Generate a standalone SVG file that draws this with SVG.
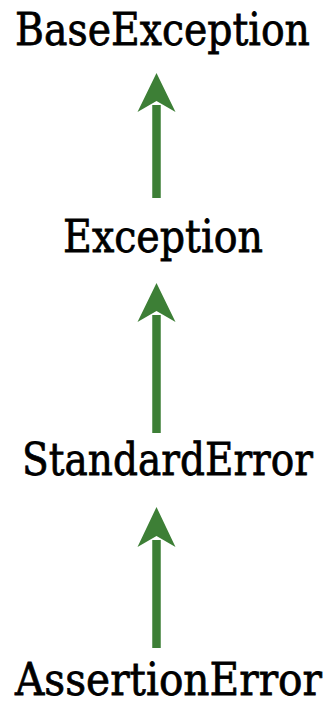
<svg xmlns="http://www.w3.org/2000/svg" width="327" height="705" viewBox="0 0 327 705">
<style>
.lbl{font-family:"DejaVu Serif","Liberation Serif",serif;font-size:30px;fill:#000;stroke:#000;stroke-width:0.5}
.shaft{fill:none;stroke:#3d7f36;stroke-width:8.5}
.head{fill:#3d7f36}
</style>
<rect width="327" height="705" fill="#fff"/>
<g id="connectors">
<path class="shaft" d="M156.5 198V105"/>
<path class="head" d="M156.5 73L175.5 112L156.5 101L137.5 112Z"/>
<path class="shaft" d="M156.5 433V315"/>
<path class="head" d="M156.5 283L175.5 322L156.5 311L137.5 322Z"/>
<path class="shaft" d="M156.5 648V540"/>
<path class="head" d="M156.5 507L175.5 547L156.5 536L137.5 547Z"/>
</g>
<g id="BaseException"><text class="lbl" transform="translate(15,45) scale(1,1.5)" x="0" y="0" textLength="295" lengthAdjust="spacingAndGlyphs">BaseException</text></g>
<g id="Exception"><text class="lbl" transform="translate(63,252) scale(1,1.5)" x="0" y="0" textLength="200" lengthAdjust="spacingAndGlyphs">Exception</text></g>
<g id="StandardError"><text class="lbl" transform="translate(22,475) scale(1,1.5)" x="0" y="0" textLength="291" lengthAdjust="spacingAndGlyphs">StandardError</text></g>
<g id="AssertionError"><text class="lbl" transform="translate(15,695) scale(1,1.5)" x="0" y="0" textLength="307" lengthAdjust="spacingAndGlyphs">AssertionError</text></g>
</svg>
